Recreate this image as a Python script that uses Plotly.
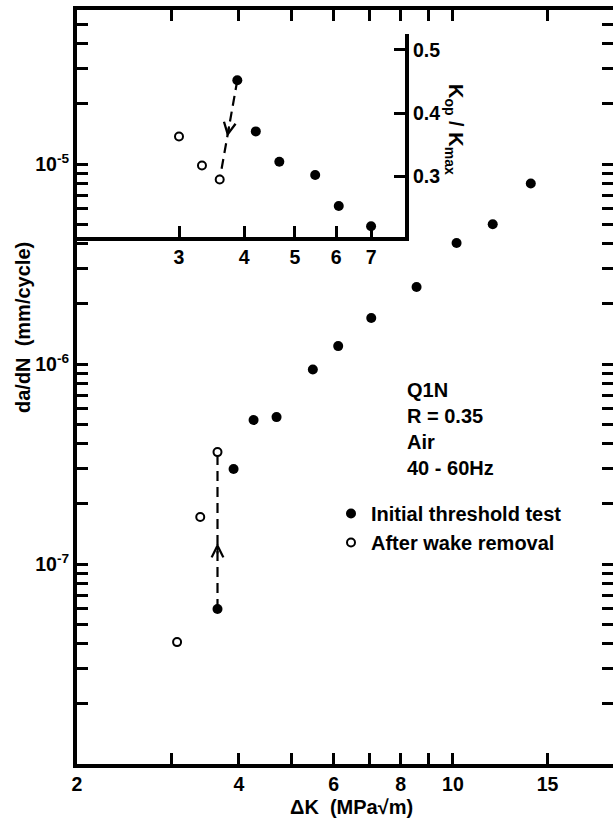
import math
import plotly.graph_objects as go

# ---------------- data ----------------
dk_initial = [3.65, 3.91, 4.26, 4.70, 5.49, 6.12, 7.05, 8.56, 10.16, 11.86, 13.96]
dadn_initial = [5.96e-8, 2.99e-7, 5.25e-7, 5.43e-7, 9.4e-7, 1.23e-6, 1.70e-6, 2.43e-6, 4.03e-6, 5.0e-6, 8.0e-6]
dk_wake = [3.07, 3.39, 3.65]
dadn_wake = [4.07e-8, 1.72e-7, 3.63e-7]

inset_dk_initial = [3.88, 4.21, 4.67, 5.47, 6.07, 7.0]
kop_initial = [0.452, 0.371, 0.323, 0.302, 0.253, 0.221]
inset_dk_wake = [3.0, 3.32, 3.59]
kop_wake = [0.363, 0.317, 0.295]

x_tickvals = [2, 3, 4, 5, 6, 7, 8, 9, 10, 15]
x_ticktext = ["2", "", "4", "", "6", "", "8", "", "10", "15"]
y_decades = [-8, -7, -6, -5]
y_labeled = {-7: "10<sup>-7</sup>", -6: "10<sup>-6</sup>", -5: "10<sup>-5</sup>"}
inset_x_ticks = [3, 4, 5, 6, 7]
inset_y_ticks = [0.3, 0.4, 0.5]
inset_y_ticktext = ["0.3", "0.4", "0.5"]

info_text = "Q1N<br>R = 0.35<br>Air<br>40 - 60Hz"

# ---------------- geometry helpers ----------------
W, H = 613, 820
ML, MR, MT, MB = 77, 0, 10, 56
PW, PH = W - ML - MR, H - MT - MB


def fx(p):
    return (p - ML) / PW


def fy(p):
    return (H - MB - p) / PH


FONT = "Arial, 'Liberation Sans', Helvetica, sans-serif"
BLACK = "black"
TXT = 20
TICK = 19.5

x_range = [math.log10(2), math.log10(19.85)]
y_range = [-8, math.log10(5.9e-5)]

y_tickvals, y_ticktext = [], []
for e in y_decades:
    for m in range(1, 10):
        v = m * 10 ** e
        if v <= 10 ** y_range[1]:
            y_tickvals.append(v)
            y_ticktext.append(y_labeled.get(e, "") if m == 1 else "")

inset_x_range = [math.log10(1.913), math.log10(8.13)]
inset_y_range = [0.204, 0.525]
inset_xdom = [0, fx(405)]
inset_ydom = [fy(237), fy(34)]

fig = go.Figure()

# main dashed connector
fig.add_trace(go.Scatter(
    x=[dk_initial[0], dk_wake[2]], y=[dadn_initial[0], dadn_wake[2]],
    mode="lines", line=dict(color=BLACK, width=2.2, dash="10px,6px"),
    showlegend=False, hoverinfo="skip"))
fig.add_trace(go.Scatter(
    x=dk_initial, y=dadn_initial, mode="markers", name="Initial threshold test",
    marker=dict(symbol="circle", size=10, color=BLACK, line=dict(width=0))))
fig.add_trace(go.Scatter(
    x=dk_wake, y=dadn_wake, mode="markers", name="After wake removal",
    marker=dict(symbol="circle", size=8, color="white", line=dict(color=BLACK, width=2))))
# right-hand tick axis helper
fig.add_trace(go.Scatter(
    x=[dk_initial[0]], y=[dadn_initial[0]], yaxis="y3", mode="markers",
    marker=dict(opacity=0), showlegend=False, hoverinfo="skip"))

# inset
fig.add_trace(go.Scatter(
    x=[inset_dk_initial[0], inset_dk_wake[2]], y=[kop_initial[0], kop_wake[2]],
    xaxis="x2", yaxis="y2", mode="lines",
    line=dict(color=BLACK, width=2.2, dash="10px,6px"), showlegend=False, hoverinfo="skip"))
fig.add_trace(go.Scatter(
    x=inset_dk_initial, y=kop_initial, xaxis="x2", yaxis="y2", mode="markers",
    marker=dict(symbol="circle", size=10, color=BLACK), showlegend=False))
fig.add_trace(go.Scatter(
    x=inset_dk_wake, y=kop_wake, xaxis="x2", yaxis="y2", mode="markers",
    marker=dict(symbol="circle", size=8, color="white", line=dict(color=BLACK, width=2)),
    showlegend=False))

axis_common = dict(showline=True, linewidth=4, linecolor=BLACK, ticks="inside",
                   ticklen=11, tickwidth=3, tickcolor=BLACK, showgrid=False,
                   zeroline=False)
tickfont = dict(family=FONT, size=TICK, color=BLACK, weight="bold")

fig.update_layout(
    width=W, height=H,
    margin=dict(l=ML, r=MR, t=MT, b=MB),
    paper_bgcolor="white", plot_bgcolor="rgba(0,0,0,0)",
    font=dict(family=FONT, size=TXT, color=BLACK, weight="bold"),
    xaxis=dict(type="log", range=x_range, tickmode="array", tickvals=x_tickvals,
               ticktext=x_ticktext, mirror="ticks", tickfont=tickfont,
               domain=[0, 1], anchor="y", **axis_common),
    yaxis=dict(type="log", range=y_range, tickmode="array", tickvals=y_tickvals,
               ticktext=y_ticktext, tickfont=tickfont, domain=[0, 1], anchor="x",
               **axis_common),
    yaxis3=dict(type="log", range=y_range, tickmode="array", tickvals=y_tickvals,
                overlaying="y", side="right", anchor="x", showticklabels=False,
                showline=False, ticks="inside", ticklen=11, tickwidth=3,
                tickcolor=BLACK, showgrid=False, zeroline=False),
    xaxis2=dict(type="log", range=inset_x_range, domain=inset_xdom, anchor="y2",
                tickmode="array", tickvals=inset_x_ticks,
                ticktext=[str(v) for v in inset_x_ticks], tickfont=tickfont,
                **axis_common),
    yaxis2=dict(range=inset_y_range, domain=inset_ydom, anchor="x2", side="right",
                tickmode="array", tickvals=inset_y_ticks, ticktext=inset_y_ticktext,
                tickfont=tickfont, **axis_common),
    showlegend=True,
    legend=dict(x=fx(331), y=fy(494), xanchor="left", yanchor="top",
                bgcolor="rgba(0,0,0,0)", borderwidth=0, tracegroupgap=5,
                traceorder="grouped",
                font=dict(family=FONT, size=TXT, color=BLACK, weight="bold")),
)

annotations = []
# axis titles
annotations.append(dict(text="da/dN  (mm/cycle)", xref="paper", yref="paper",
                        x=fx(23), y=fy(328), showarrow=False, textangle=-90,
                        xanchor="center", yanchor="middle",
                        font=dict(family=FONT, size=TXT, color=BLACK, weight="bold")))
annotations.append(dict(text="\u0394K  (MPa\u221am)", xref="paper", yref="paper",
                        x=fx(351), y=fy(807), showarrow=False,
                        xanchor="center", yanchor="middle",
                        font=dict(family=FONT, size=TXT, color=BLACK, weight="bold")))
annotations.append(dict(text="K<sub>op</sub> / K<sub>max</sub>", xref="paper", yref="paper",
                        x=fx(455), y=fy(129), showarrow=False, textangle=90,
                        xanchor="center", yanchor="middle",
                        font=dict(family=FONT, size=TXT, color=BLACK, weight="bold")))
annotations.append(dict(text=info_text, xref="paper", yref="paper",
                        x=fx(405), y=fy(377), showarrow=False, align="left",
                        xanchor="left", yanchor="top",
                        font=dict(family=FONT, size=TXT, color=BLACK, weight="bold")))

# main arrowhead (pointing up along the dashed connector)
lx0, lx1 = math.log10(dk_initial[0]), math.log10(dk_wake[2])
ly0, ly1 = math.log10(dadn_initial[0]), math.log10(dadn_wake[2])
t = 0.42
annotations.append(dict(x=lx0 + t * (lx1 - lx0), y=ly0 + t * (ly1 - ly0),
                        xref="x", yref="y", text="", showarrow=True, arrowhead=5,
                        arrowsize=1.15, arrowwidth=2, arrowcolor=BLACK,
                        ax=0, ay=12, standoff=0))

# inset arrowhead (pointing down along its dashed connector)
ix0, ix1 = math.log10(inset_dk_initial[0]), math.log10(inset_dk_wake[2])
iy0, iy1 = kop_initial[0], kop_wake[2]
ppd_x = (inset_xdom[1] - inset_xdom[0]) * PW / (inset_x_range[1] - inset_x_range[0])
ppu_y = (inset_ydom[1] - inset_ydom[0]) * PH / (inset_y_range[1] - inset_y_range[0])
dxp = (ix1 - ix0) * ppd_x
dyp = -(iy1 - iy0) * ppu_y
L = math.hypot(dxp, dyp)
ux, uy = dxp / L, dyp / L
t2 = 0.57
annotations.append(dict(x=ix0 + t2 * (ix1 - ix0), y=iy0 + t2 * (iy1 - iy0),
                        xref="x2", yref="y2", text="", showarrow=True, arrowhead=5,
                        arrowsize=1.15, arrowwidth=2, arrowcolor=BLACK,
                        ax=-ux * 12, ay=-uy * 12, standoff=0))

fig.update_layout(annotations=annotations)

fig.write_html("out.html")
